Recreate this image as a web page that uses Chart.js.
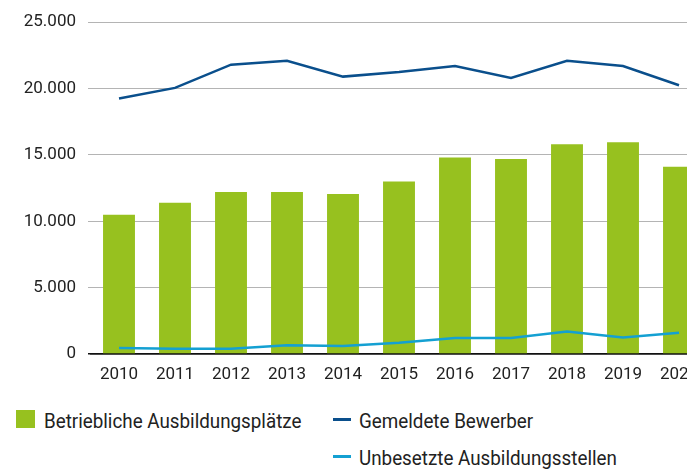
<!DOCTYPE html>
<html>
<head>
<meta charset="utf-8">
<script src="https://cdn.jsdelivr.net/npm/chart.js@4"></script>
<style>
  html, body { margin: 0; padding: 0; background: #fff; overflow: hidden; }
  #wrap { position: relative; width: 687px; height: 469px; overflow: hidden; }
  #box { position: absolute; left: 0; top: 0; width: 712px; height: 401px; }
  .leg { position: absolute; font-family: Roboto, sans-serif; font-size: 20px; color: #222; white-space: nowrap; line-height: 20px; transform: scaleX(0.94); transform-origin: 0 0; }
  .sw { position: absolute; }
</style>
</head>
<body>
<div id="wrap">
  <div id="box"><canvas id="barChart"></canvas></div>
  <div class="sw" style="left:16px;top:410px;width:19px;height:18px;background:#97c11f"></div>
  <div class="leg" style="left:44px;top:411px">Betriebliche Ausbildungsplätze</div>
  <div class="sw" style="left:333px;top:418px;width:18px;height:3px;background:#0a4f8c"></div>
  <div class="leg" style="left:359px;top:411px">Gemeldete Bewerber</div>
  <div class="sw" style="left:333px;top:455px;width:18px;height:3px;background:#14a0d2"></div>
  <div class="leg" style="left:359px;top:448px">Unbesetzte Ausbildungsstellen</div>
</div>
<script>
const years = ["2010", "2011", "2012", "2013", "2014", "2015", "2016", "2017", "2018", "2019", "2020"];
const ausbildungsplaetze = [10500, 11400, 12200, 12200, 12050, 13000, 14800, 14700, 15800, 15950, 14100];
const bewerber = [19250, 20050, 21800, 22100, 20900, 21250, 21700, 20800, 22100, 21700, 20250];
const unbesetzt = [450, 400, 400, 650, 600, 850, 1200, 1200, 1700, 1250, 1600];
const yTicks = [0, 5000, 10000, 15000, 20000, 25000];

const ctx = document.getElementById("barChart").getContext("2d");
const tickFont = { family: "Roboto, sans-serif", size: 17 };

const chart = new Chart(ctx, {
  type: "bar",
  data: {
    labels: years,
    datasets: [
      {
        type: "line",
        label: "Gemeldete Bewerber",
        data: bewerber,
        borderColor: "#0a4f8c",
        borderWidth: 2.5,
        pointRadius: 0,
        tension: 0,
        order: 0,
      },
      {
        type: "line",
        label: "Unbesetzte Ausbildungsstellen",
        data: unbesetzt,
        borderColor: "#14a0d2",
        borderWidth: 2.5,
        pointRadius: 0,
        tension: 0,
        order: 0,
      },
      {
        label: "Betriebliche Ausbildungsplätze",
        data: ausbildungsplaetze,
        backgroundColor: "#97c11f",
        barPercentage: 0.57,
        categoryPercentage: 1,
        order: 1,
      },
    ],
  },
  options: {
    responsive: true,
    maintainAspectRatio: false,
    animation: false,
    layout: { padding: { top: 18, right: 5, left: 0, bottom: 0 } },
    plugins: {
      legend: { display: false },
      tooltip: { enabled: false },
    },
    scales: {
      x: {
        grid: { display: false, drawTicks: false },
        border: { color: "#111", width: 1.5 },
        ticks: { color: "#222", font: tickFont, padding: 11, maxRotation: 0 },
        afterFit: (s) => { s.height = 47; },
      },
      y: {
        min: 0,
        max: 25000,
        afterBuildTicks: (s) => { s.ticks = yTicks.map((v) => ({ value: v })); },
        grid: {
          color: (c) => (c.tick.value === 0 ? "#111" : "#b4b4b4"),
          lineWidth: (c) => (c.tick.value === 0 ? 1.5 : 1),
          tickLength: 3,
        },
        border: { display: false },
        ticks: {
          color: "#222",
          font: tickFont,
          padding: 12,
          callback: (v) => v.toLocaleString("de-DE"),
        },
        afterFit: (s) => { s.width = 91; },
      },
    },
  },
});
</script>
</body>
</html>
